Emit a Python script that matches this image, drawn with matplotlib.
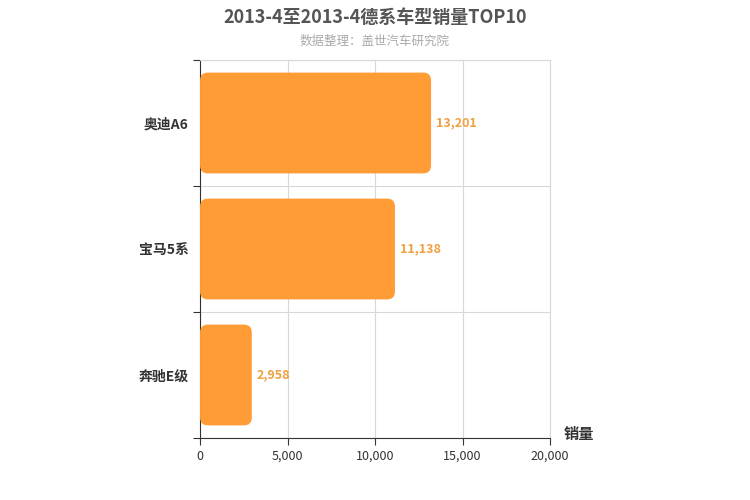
import matplotlib
matplotlib.use("Agg")
import matplotlib.pyplot as plt
from matplotlib.patches import FancyBboxPatch

plt.rcParams['font.family'] = ['Noto Sans CJK SC', 'DejaVu Sans']

models = ["奥迪A6", "宝马5系", "奔驰E级"]
sales = [13201, 11138, 2958]
xticks = [0, 5000, 10000, 15000, 20000]

BAR = "#FF9C35"

fig = plt.figure(figsize=(7.5, 5), dpi=100)
ax = fig.add_axes([0.2667, 0.124, 0.4667, 0.756])

ypos = list(range(len(models)))[::-1]
bars = ax.barh(ypos, sales, height=0.8, color=BAR)
# replace plain bars with rounded ones
aspect = (3 / 378) / (20000 / 350)
for b in bars:
    b.set_visible(False)
    ax.add_patch(FancyBboxPatch((b.get_x(), b.get_y()), b.get_width(), b.get_height(),
                                boxstyle="round,pad=0,rounding_size=450",
                                mutation_aspect=aspect, fc=BAR, ec="none", zorder=3))
for y, v in zip(ypos, sales):
    ax.text(v + 300, y, f"{v:,}", va="center", ha="left", fontsize=9,
            fontweight="bold", color="#F0A040")

ax.set_xlim(0, 20000)
ax.set_ylim(-0.5, 2.5)
ax.set_xticks(xticks)
ax.set_xticklabels([f"{t:,}" for t in xticks], fontsize=9, color="#333")
ax.set_yticks([-0.5, 0.5, 1.5, 2.5])
ax.set_yticklabels([])
ax.set_yticks(ypos, minor=True)
ax.set_yticklabels(models, minor=True, fontsize=10, fontweight="bold", color="#333")
ax.tick_params(axis="y", which="minor", length=0, pad=8)
ax.tick_params(axis="y", which="major", length=5, color="#333")
ax.tick_params(axis="x", length=5, color="#333")
ax.grid(True, which="major", color="#D8D8D8", linewidth=0.8, zorder=0)
ax.set_axisbelow(True)
for s in ("top", "right"):
    ax.spines[s].set_color("#D8D8D8")
ax.spines["left"].set_color("#333")
ax.spines["bottom"].set_color("#333")

ax.text(1.04, -0.01, "销量", transform=ax.transAxes, fontsize=11, fontweight="bold",
        color="#333", ha="left", va="bottom")
fig.text(0.5, 0.965, "2013-4至2013-4德系车型销量TOP10", ha="center", va="center",
         fontsize=13, fontweight="bold", color="#555")
fig.text(0.5, 0.918, "数据整理：盖世汽车研究院", ha="center", va="center",
         fontsize=9, color="#AAAAAA")

fig.savefig("out.png")
